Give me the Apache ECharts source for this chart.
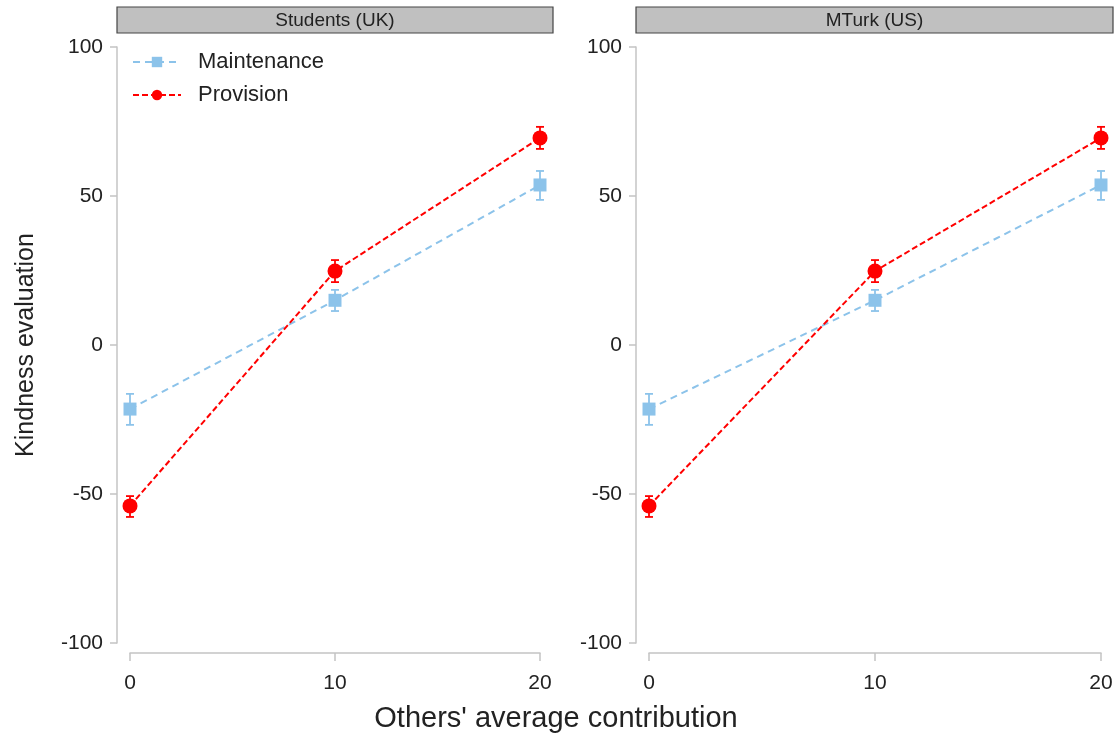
<!DOCTYPE html>
<html>
<head>
<meta charset="utf-8">
<script src="https://cdn.jsdelivr.net/npm/echarts@6/dist/echarts.min.js"></script>
<style>
  html, body { margin: 0; padding: 0; background: #fff; }
  #chart { width: 1118px; height: 738px; }
</style>
</head>
<body>
<div id="chart"></div>
<script>
// data
var panels = ["Students (UK)", "MTurk (US)"];
var xVals = [0, 10, 20];
var xTicks = [0, 10, 20];
var yTicks = [-100, -50, 0, 50, 100];
// Maintenance: mean, lower, upper (per panel)
var maintMean = [[-21.5, 15, 53.7], [-21.5, 15, 53.7]];
var maintLow = [[-26.8, 11.4, 48.7], [-26.8, 11.4, 48.7]];
var maintHigh = [[-16.4, 18.5, 58.4], [-16.4, 18.5, 58.4]];
// Provision
var provMean = [[-54, 24.8, 69.5], [-54, 24.8, 69.5]];
var provLow = [[-57.7, 21.1, 65.8], [-57.7, 21.1, 65.8]];
var provHigh = [[-50.7, 28.5, 73.2], [-50.7, 28.5, 73.2]];

var blue = "#8cc3ea";
var red = "#ff0000";
var axisGrey = "#c4c4c4";
var font = "Liberation Sans";

var chart = echarts.init(document.getElementById("chart"));

// panel geometry
var grids = [
  { left: 130, top: 47, width: 410, height: 596 },
  { left: 649, top: 47, width: 452, height: 596 }
];
var strips = [
  { x: 117, w: 436 },
  { x: 636, w: 477 }
];

function errBar(color) {
  return function (params, api) {
    var x = api.value(0);
    var p1 = api.coord([x, api.value(1)]);
    var p2 = api.coord([x, api.value(2)]);
    var c = 4;
    var st = { stroke: color, lineWidth: 1.8 };
    return {
      type: "group",
      children: [
        { type: "line", shape: { x1: p1[0], y1: p1[1], x2: p2[0], y2: p2[1] }, style: st },
        { type: "line", shape: { x1: p1[0] - c, y1: p1[1], x2: p1[0] + c, y2: p1[1] }, style: st },
        { type: "line", shape: { x1: p2[0] - c, y1: p2[1], x2: p2[0] + c, y2: p2[1] }, style: st }
      ]
    };
  };
}

var option = {
  animation: false,
  backgroundColor: "#fff",
  textStyle: { fontFamily: font },
  grid: [],
  xAxis: [],
  yAxis: [],
  series: [],
  legend: {
    orient: "vertical",
    left: 127,
    top: 46,
    itemGap: 11,
    itemWidth: 48,
    itemHeight: 13,
    textStyle: { fontSize: 22, color: "#222", fontFamily: font, padding: [0, 0, 0, 12] },
    data: ["Maintenance", "Provision"]
  },
  graphic: []
};

panels.forEach(function (name, i) {
  option.grid.push(grids[i]);
  option.xAxis.push({
    type: "value",
    gridIndex: i,
    min: 0,
    max: 20,
    interval: 10,
    offset: 10,
    axisLine: { show: true, onZero: false, lineStyle: { color: axisGrey, width: 1.5 } },
    axisTick: { show: true, length: 8, lineStyle: { color: axisGrey, width: 1.5 } },
    axisLabel: { fontSize: 21, color: "#222", margin: 20,
      formatter: function (v) { return xTicks.indexOf(v) >= 0 ? String(v) : ""; } },
    splitLine: { show: false }
  });
  option.yAxis.push({
    type: "value",
    gridIndex: i,
    min: -100,
    max: 100,
    interval: 50,
    offset: 13,
    axisLine: { show: true, onZero: false, lineStyle: { color: axisGrey, width: 1.5 } },
    axisTick: { show: true, length: 7, lineStyle: { color: axisGrey, width: 1.5 } },
    axisLabel: { fontSize: 21, color: "#222", margin: 14,
      formatter: function (v) { return yTicks.indexOf(v) >= 0 ? String(v) : ""; } },
    splitLine: { show: false },
    name: i === 0 ? "Kindness evaluation" : "",
    nameLocation: "middle",
    nameGap: 78,
    nameTextStyle: { fontSize: 25, color: "#222", fontFamily: font }
  });

  option.series.push({
    type: "custom",
    xAxisIndex: i, yAxisIndex: i,
    renderItem: errBar(blue),
    data: xVals.map(function (x, k) { return [x, maintLow[i][k], maintHigh[i][k]]; }),
    z: 1
  });
  option.series.push({
    type: "custom",
    xAxisIndex: i, yAxisIndex: i,
    renderItem: errBar(red),
    data: xVals.map(function (x, k) { return [x, provLow[i][k], provHigh[i][k]]; }),
    z: 1
  });
  option.series.push({
    name: "Maintenance",
    type: "line",
    xAxisIndex: i, yAxisIndex: i,
    symbol: "rect",
    symbolSize: 13,
    itemStyle: { color: blue },
    lineStyle: { color: blue, width: 2, type: [7, 5] },
    data: xVals.map(function (x, k) { return [x, maintMean[i][k]]; }),
    z: 3
  });
  option.series.push({
    name: "Provision",
    type: "line",
    xAxisIndex: i, yAxisIndex: i,
    symbol: "circle",
    symbolSize: 15,
    itemStyle: { color: red },
    lineStyle: { color: red, width: 2, type: [6, 3] },
    data: xVals.map(function (x, k) { return [x, provMean[i][k]]; }),
    z: 3
  });

  // strip header
  option.graphic.push({
    type: "rect",
    shape: { x: strips[i].x, y: 7, width: strips[i].w, height: 26 },
    style: { fill: "#c0c0c0", stroke: "#444", lineWidth: 1.2 }
  });
  option.graphic.push({
    type: "text",
    x: strips[i].x + strips[i].w / 2,
    y: 21,
    style: { text: name, fill: "#222", font: "19px " + font, align: "center", verticalAlign: "middle" }
  });
});

option.graphic.push({
  type: "text",
  x: 556,
  y: 719,
  style: { text: "Others' average contribution", fill: "#222", font: "29px " + font, align: "center", verticalAlign: "middle" }
});

chart.setOption(option);
</script>
</body>
</html>
